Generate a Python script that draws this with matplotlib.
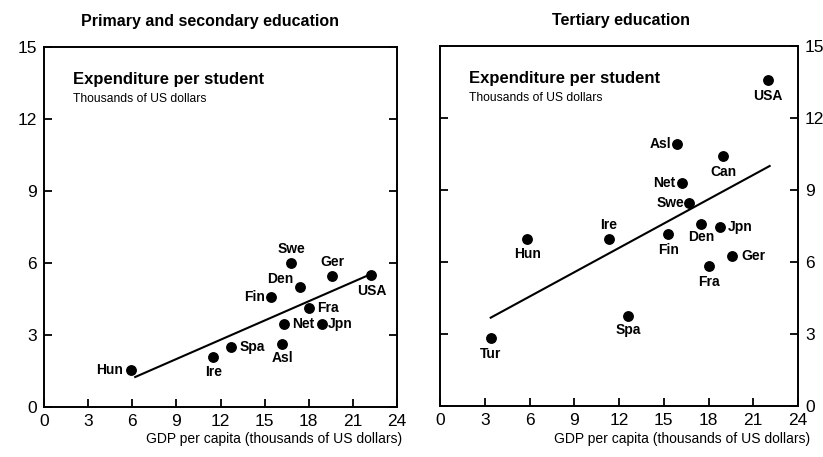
import matplotlib.pyplot as plt

plt.rcParams['font.family'] = ['Liberation Sans', 'DejaVu Sans']

# Primary and secondary education
ps_names = ['Hun', 'Ire', 'Spa', 'Asl', 'Net', 'Jpn', 'Fra', 'Fin', 'Den', 'Swe', 'Ger', 'USA']
ps_gdp = [5.9, 11.5, 12.7, 16.2, 16.3, 18.9, 18.0, 15.4, 17.4, 16.8, 19.6, 22.2]
ps_exp = [1.56, 2.07, 2.52, 2.64, 3.46, 3.46, 4.14, 4.60, 4.99, 6.00, 5.45, 5.52]
ps_fit_x = [6.2, 21.9]
ps_fit_y = [1.25, 5.45]

# Tertiary education
te_names = ['USA', 'Asl', 'Can', 'Net', 'Swe', 'Den', 'Jpn', 'Fin', 'Ire', 'Hun', 'Ger', 'Fra', 'Spa', 'Tur']
te_gdp = [22.0, 15.9, 19.0, 16.2, 16.7, 17.5, 18.8, 15.3, 11.3, 5.8, 19.6, 18.0, 12.6, 3.4]
te_exp = [13.6, 10.9, 10.4, 9.3, 8.47, 7.57, 7.47, 7.15, 6.95, 6.95, 6.25, 5.85, 3.75, 2.85]
te_fit_x = [3.4, 22.1]
te_fit_y = [3.68, 10.0]

xticks = [0, 3, 6, 9, 12, 15, 18, 21, 24]
yticks = [0, 3, 6, 9, 12, 15]

# label offsets in pixels (dx, dy, ha)
ps_off = {'Hun': (-8, 0, 'right'), 'Ire': (0, -15, 'center'),
          'Spa': (9, 0, 'left'), 'Asl': (0, -14, 'center'),
          'Net': (8, 0, 'left'), 'Jpn': (6, 0, 'left'),
          'Fra': (8, 0, 'left'), 'Fin': (-6, 0, 'right'),
          'Den': (-7, 8, 'right'), 'Swe': (0, 14, 'center'),
          'Ger': (0, 14, 'center'), 'USA': (1, -16, 'center')}
te_off = {'USA': (0, -16, 'center'), 'Asl': (-6, 0, 'right'),
          'Can': (0, -16, 'center'), 'Net': (-6, 0, 'right'),
          'Swe': (-5, 0, 'right'), 'Den': (0, -13, 'center'),
          'Jpn': (7, 0, 'left'), 'Fin': (0, -16, 'center'),
          'Ire': (0, 14, 'center'), 'Hun': (1, -15, 'center'),
          'Ger': (9, 0, 'left'), 'Fra': (0, -16, 'center'),
          'Spa': (0, -14, 'center'), 'Tur': (0, -16, 'center')}

fig = plt.figure(figsize=(8.23, 4.57), dpi=100)
ax1 = fig.add_axes([44 / 823, 1 - 407 / 457, 353 / 823, 360 / 457])
ax2 = fig.add_axes([440 / 823, 1 - 406 / 457, 358 / 823, 360 / 457])


def draw(ax, names, gdp, exp, fx, fy, off, title, title_x, right):
    ax.plot(fx, fy, color='black', lw=1.5)
    ax.plot(gdp, exp, 'o', color='black', ms=6.8)
    for n, x, y in zip(names, gdp, exp):
        dx, dy, ha = off[n]
        ax.annotate(n, (x, y), xytext=(dx, dy), textcoords='offset pixels',
                    ha=ha, va='center', fontsize=10, fontweight='bold')
    ax.set_xlim(0, 24)
    ax.set_ylim(0, 15)
    ax.set_xticks(xticks)
    ax.set_yticks(yticks)
    ax.tick_params(axis='both', direction='in', length=6, width=1.3,
                   labelsize=12.5, colors='black')
    ax.tick_params(axis='y', left=True, right=True, labelleft=not right, labelright=right, pad=5)
    ax.tick_params(axis='x', pad=5)
    for s in ax.spines.values():
        s.set_linewidth(1.4)
    ax.set_title(title, fontsize=11.5, fontweight='bold', pad=15, x=title_x)
    ax.text(0.082, 0.91, 'Expenditure per student', transform=ax.transAxes,
            fontsize=12, fontweight='bold', va='center')
    ax.text(0.082, 0.855, 'Thousands of US dollars', transform=ax.transAxes,
            fontsize=8.7, va='center')


draw(ax1, ps_names, ps_gdp, ps_exp, ps_fit_x, ps_fit_y, ps_off,
     'Primary and secondary education', (210 - 44) / 353, False)
draw(ax2, te_names, te_gdp, te_exp, te_fit_x, te_fit_y, te_off,
     'Tertiary education', (621 - 440) / 358, True)

fig.text(402 / 823, 1 - 439 / 457, 'GDP per capita (thousands of US dollars)',
         ha='right', va='center', fontsize=10)
fig.text(810 / 823, 1 - 439 / 457, 'GDP per capita (thousands of US dollars)',
         ha='right', va='center', fontsize=10)

fig.savefig('out.png', dpi=100)
